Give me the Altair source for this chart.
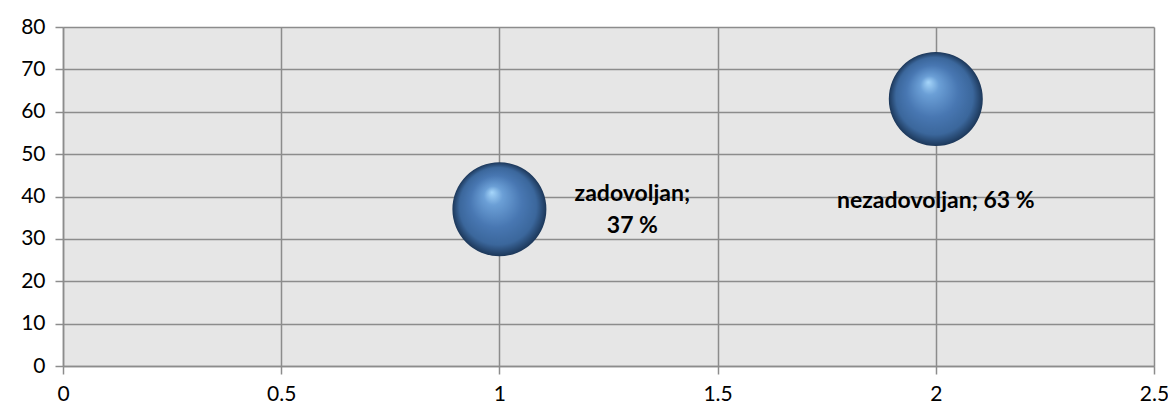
import altair as alt
import pandas as pd

# data
x_vals = [1, 2]
y_vals = [37, 63]
names = ["zadovoljan", "nezadovoljan"]
pcts = ["37 %", "63 %"]
x_ticks = [0, 0.5, 1, 1.5, 2, 2.5]
y_ticks = [0, 10, 20, 30, 40, 50, 60, 70, 80]

df = pd.DataFrame({"x": x_vals, "y": y_vals, "name": names, "pct": pcts})

FONT = "Lato"
GRID = "#8c8c8c"

xscale = alt.Scale(domain=[0, 2.5], nice=False, zero=False)
yscale = alt.Scale(domain=[0, 80], nice=False)

common = dict(title=None, grid=True, gridColor=GRID, gridWidth=1.5,
              domainColor=GRID, domainWidth=1.5, tickColor=GRID, tickWidth=1.5,
              tickSize=8, labelFont=FONT, labelFontSize=21, labelColor="black",
              labelFlush=False, labelOverlap=False, labelExpr="'' + datum.value")
xaxis = alt.Axis(values=x_ticks, labelPadding=9, **common)
yaxis = alt.Axis(values=y_ticks, labelPadding=10, **common)

sphere = alt.Gradient(
    gradient="radial",
    x1=0.42, y1=0.32, r1=0.0,
    x2=0.5, y2=0.5, r2=0.5,
    stops=[
        alt.GradientStop(color="#a6d6fa", offset=0.0),
        alt.GradientStop(color="#6b9fd6", offset=0.2),
        alt.GradientStop(color="#4877b2", offset=0.55),
        alt.GradientStop(color="#3b679c", offset=0.82),
        alt.GradientStop(color="#1c3759", offset=1.0),
    ],
)

base = alt.Chart(df).encode(
    x=alt.X("x:Q", scale=xscale, axis=xaxis),
    y=alt.Y("y:Q", scale=yscale, axis=yaxis),
)

bubbles = base.mark_point(shape="circle", size=8836, filled=True,
                          fill=sphere, opacity=1, strokeWidth=0)

lab1 = alt.Chart(df).transform_filter(alt.datum.x == 1).transform_calculate(
    lines="[datum.name + ';', datum.pct]"
).mark_text(font=FONT, fontWeight="bold", fontSize=23, color="black",
            align="center", baseline="middle", dx=133, dy=-15, lineHeight=32).encode(
    x=alt.X("x:Q", scale=xscale), y=alt.Y("y:Q", scale=yscale), text="lines:N"
)

lab2 = alt.Chart(df).transform_filter(alt.datum.x == 2).transform_calculate(
    t="datum.name + '; ' + datum.pct"
).mark_text(font=FONT, fontWeight="bold", fontSize=23, color="black",
            align="center", baseline="middle", dx=0, dy=102).encode(
    x=alt.X("x:Q", scale=xscale), y=alt.Y("y:Q", scale=yscale), text="t:N"
)

chart = alt.layer(bubbles, lab1, lab2).properties(
    width=1091, height=339,
    autosize=alt.AutoSizeParams(type="none"),
    padding={"left": 55, "top": 19, "right": 14, "bottom": 40},
    background="white",
).configure_view(fill="#e6e6e6", stroke=None)

chart.save("out.html", embed_options={"renderer": "svg", "actions": False})
